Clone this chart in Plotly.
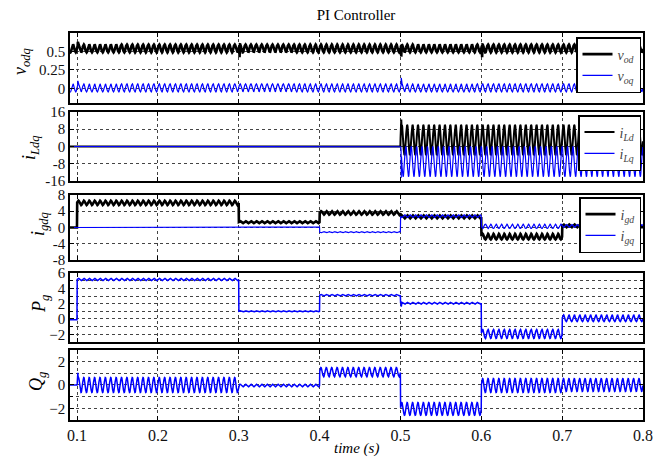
import numpy as np
import plotly.graph_objects as go
from plotly.subplots import make_subplots

# ---------------------------------------------------------------------------
# Operating segments (s): start of record, then each set-point change
t_edges = [0.0913, 0.1, 0.3, 0.4, 0.5, 0.6, 0.7, 0.8]
ripple_hz = 150.0  # dominant oscillation in the dq quantities

# Per-segment mean value and ripple amplitude of every signal
v_od_mean = [0.54, 0.54, 0.54, 0.54, 0.54, 0.54, 0.54]
v_od_ripple = [0.055, 0.055, 0.055, 0.055, 0.055, 0.055, 0.055]
v_oq_mean = [0.005, 0.005, 0.005, 0.005, 0.005, 0.005, 0.005]
v_oq_ripple = [0.055, 0.055, 0.055, 0.055, 0.055, 0.055, 0.055]

i_Ld_mean = [0.0, 0.0, 0.0, 0.0, 3.0, 3.0, 3.0]
i_Ld_ripple = [0.0, 0.0, 0.0, 0.0, 7.0, 7.0, 7.0]
i_Lq_mean = [0.0, 0.0, 0.0, 0.0, -7.0, -7.0, -7.0]
i_Lq_ripple = [0.0, 0.0, 0.0, 0.0, 7.0, 7.0, 7.0]

i_gd_mean = [0.0, 6.05, 1.3, 3.6, 2.6, -2.25, 0.4]
i_gd_ripple = [0.0, 0.55, 0.25, 0.45, 0.4, 0.7, 0.35]
i_gq_mean = [0.0, 0.1, 0.1, -1.15, 2.8, 0.3, 0.4]
i_gq_ripple = [0.0, 0.05, 0.05, 0.15, 0.35, 0.55, 0.35]

P_g_mean = [-0.1, 5.15, 1.0, 3.1, 2.05, -1.95, 0.1]
P_g_ripple = [0.0, 0.15, 0.08, 0.1, 0.12, 0.6, 0.45]

Q_g_mean = [0.0, 0.0, -0.05, 1.1, -2.05, -0.05, 0.0]
Q_g_ripple = [0.0, 0.65, 0.12, 0.4, 0.55, 0.6, 0.55]

# Transient peaks right after switching instants
v_od_peak_t, v_od_peak_v = [0.1, 0.3, 0.5, 0.6], [0.63, 0.42, 0.43, 0.42]
v_oq_peak_t, v_oq_peak_v = [0.1, 0.5], [0.10, 0.14]
i_Ld_peak_t, i_Ld_peak_v = [0.5], [12.5]
i_Lq_peak_t, i_Lq_peak_v = [0.5], [-14.5]
P_g_peak_t, P_g_peak_v = [0.5], [1.6]
Q_g_peak_t, Q_g_peak_v = [0.1], [1.05]

# Axis ticks
x_ticks = [0.1, 0.2, 0.3, 0.4, 0.5, 0.6, 0.7, 0.8]
x_ticktext = ["0.1", "0.2", "0.3", "0.4", "0.5", "0.6", "0.7", "0.8"]


def build(mean, ripple, phase=0.0, peak_t=(), peak_v=()):
    """Piecewise mean + ripple waveform over the segments in t_edges."""
    t = np.arange(t_edges[0], t_edges[-1], 1.0 / (ripple_hz * 24))
    seg = np.clip(np.searchsorted(t_edges, t, side="right") - 1, 0, len(mean) - 1)
    y = np.take(mean, seg) + np.take(ripple, seg) * np.sin(
        2 * np.pi * ripple_hz * t + np.radians(phase))
    for tp, vp in zip(peak_t, peak_v):
        k = int(np.searchsorted(t, tp + 0.0008))
        if k < len(y):
            y[k] = vp
    return t, y


FONT = "Liberation Serif"
BLACK = "#000000"
BLUE = "#0000ff"

fig = make_subplots(rows=5, cols=1, shared_xaxes=True, vertical_spacing=0.0)

# domains of the five stacked panels (fraction of plot height)
domains = [[0.8191, 1.0], [0.6176, 0.7959], [0.4134, 0.5814],
           [0.2016, 0.3798], [0.0, 0.1809]]

series = [
    (1, "<i>v</i><sub><i>od</i></sub>", build(v_od_mean, v_od_ripple, 0, v_od_peak_t, v_od_peak_v), BLACK, 2.6, "legend"),
    (1, "<i>v</i><sub><i>oq</i></sub>", build(v_oq_mean, v_oq_ripple, 0, v_oq_peak_t, v_oq_peak_v), BLUE, 1.2, "legend"),
    (2, "<i>i</i><sub><i>Ld</i></sub>", build(i_Ld_mean, i_Ld_ripple, 0, i_Ld_peak_t, i_Ld_peak_v), BLACK, 2.0, "legend2"),
    (2, "<i>i</i><sub><i>Lq</i></sub>", build(i_Lq_mean, i_Lq_ripple, 90, i_Lq_peak_t, i_Lq_peak_v), BLUE, 1.2, "legend2"),
    (3, "<i>i</i><sub><i>gd</i></sub>", build(i_gd_mean, i_gd_ripple, 0), BLACK, 2.6, "legend3"),
    (3, "<i>i</i><sub><i>gq</i></sub>", build(i_gq_mean, i_gq_ripple, 180), BLUE, 1.2, "legend3"),
    (4, "P_g", build(P_g_mean, P_g_ripple, 0, P_g_peak_t, P_g_peak_v), BLUE, 1.5, None),
    (5, "Q_g", build(Q_g_mean, Q_g_ripple, 0, Q_g_peak_t, Q_g_peak_v), BLUE, 1.5, None),
]

for row, name, (t, y), color, width, leg in series:
    tr = go.Scatter(x=t, y=y, mode="lines", name=name,
                    line=dict(color=color, width=width),
                    showlegend=leg is not None)
    if leg is not None:
        tr.legend = leg
    fig.add_trace(tr, row=row, col=1)

grid = dict(showgrid=True, gridcolor="#444444", griddash="dot", gridwidth=1)
axis_common = dict(showline=True, linecolor=BLACK, linewidth=1.6, mirror="ticks",
                   ticks="inside", ticklen=4, tickcolor=BLACK, zeroline=False,
                   tickfont=dict(family=FONT, size=15, color="#111111"), **grid)

y_specs = [
    dict(range=[-0.2, 0.75], tickvals=[0, 0.25, 0.5], ticktext=["0", "0.25", "0.5"]),
    dict(range=[-16, 16], tickvals=[-16, -8, 0, 8, 16], ticktext=["-16", "-8", "0", "8", "16"]),
    dict(range=[-8, 8], tickvals=[-8, -4, 0, 4, 8], ticktext=["-8", "-4", "0", "4", "8"]),
    dict(range=[-3, 6], tick0=0, dtick=2,
         minor=dict(dtick=1, tick0=0, ticks="inside", ticklen=3, tickcolor=BLACK, **grid)),
    dict(range=[-3, 3], tick0=0, dtick=2,
         minor=dict(dtick=1, tick0=0, ticks="inside", ticklen=3, tickcolor=BLACK, **grid)),
]

for i in range(5):
    fig.update_yaxes(domain=domains[i], **axis_common, **y_specs[i], row=i + 1, col=1)
    fig.update_xaxes(range=[t_edges[0], t_edges[-1]], tickvals=x_ticks,
                     ticktext=x_ticktext, showticklabels=(i == 4),
                     **axis_common, row=i + 1, col=1)
fig.update_xaxes(tickfont=dict(size=16), row=5, col=1)

# y-axis titles
ylabels = [
    ("<i>v</i><sub><i>odq</i></sub>", 22, 62),
    ("<i>i</i><sub><i>Ldq</i></sub>", 30, 148),
    ("<i>i</i><sub><i>gdq</i></sub>", 39, 224),
    ("<i>P</i><sub><i>g</i></sub>", 40, 304),
    ("<i>Q</i><sub><i>g</i></sub>", 37, 382),
]
L, R, T, B, W, H = 70, 27, 33, 39, 670, 459
pw, ph = W - L - R, H - T - B
for txt, xp, yp in ylabels:
    fig.add_annotation(text=txt, textangle=-90, showarrow=False,
                       xref="paper", yref="paper",
                       x=(xp - L) / pw, y=(H - B - yp) / ph,
                       xanchor="center", yanchor="middle",
                       font=dict(family=FONT, size=18, color=BLACK))

fig.add_annotation(text="<i>time (s)</i>", showarrow=False, xref="paper", yref="paper",
                   x=0.5, y=(H - B - 448) / ph, xanchor="center", yanchor="middle",
                   font=dict(family=FONT, size=15, color=BLACK))

legend_style = dict(xanchor="right", yanchor="top", x=(641 - L) / pw,
                    bgcolor="white", bordercolor=BLACK, borderwidth=1.5,
                    font=dict(family=FONT, size=14, color="#444444"),
                    tracegroupgap=0, itemwidth=30)

fig.update_layout(
    width=W, height=H,
    margin=dict(l=L, r=R, t=T, b=B),
    paper_bgcolor="white", plot_bgcolor="white",
    title=dict(text="PI Controller", x=356 / W, y=1 - 15 / H,
               xanchor="center", yanchor="middle",
               font=dict(family=FONT, size=15, color=BLACK)),
    legend=dict(y=(H - B - 37) / ph, **legend_style),
    legend2=dict(y=(H - B - 115) / ph, **legend_style),
    legend3=dict(y=(H - B - 197) / ph, **legend_style),
)

fig.write_html("out.html")
